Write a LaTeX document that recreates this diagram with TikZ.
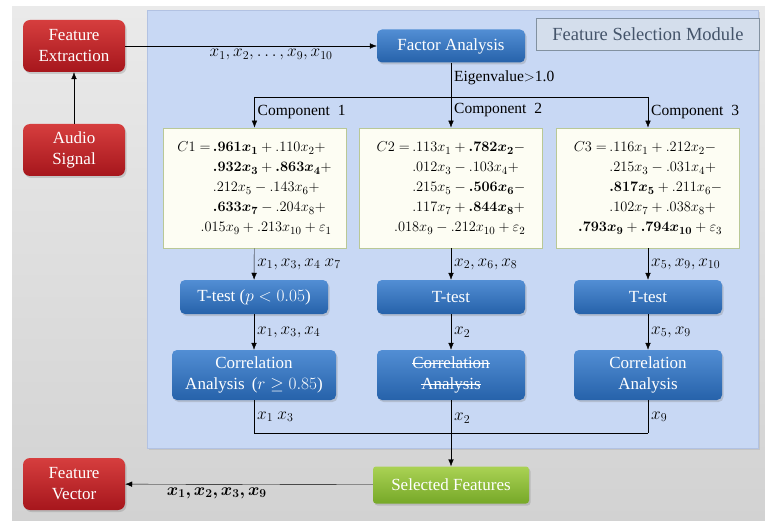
\documentclass[tikz,border=0pt]{standalone}
\usepackage{amsmath}
\usepackage{bm}
\usepackage{fontspec}
\setmainfont{Liberation Serif}
\usetikzlibrary{arrows.meta,shadows}

\definecolor{bgTop}{RGB}{234,234,234}
\definecolor{bgBot}{RGB}{210,210,210}
\definecolor{panelBlue}{RGB}{200,216,244}
\definecolor{panelEdge}{RGB}{178,194,226}
\definecolor{redTop}{RGB}{214,62,62}
\definecolor{redBot}{RGB}{166,22,28}
\definecolor{blueTop}{RGB}{82,142,212}
\definecolor{blueBot}{RGB}{38,98,170}
\definecolor{greenTop}{RGB}{170,210,84}
\definecolor{greenBot}{RGB}{118,168,40}
\definecolor{eqFill}{RGB}{253,253,243}
\definecolor{eqDraw}{RGB}{185,200,150}
\definecolor{moduleFill}{RGB}{212,222,236}
\definecolor{moduleDraw}{RGB}{130,145,160}
\definecolor{moduleText}{RGB}{68,84,106}

\newcommand\strikeText[1]{\setbox0\hbox{#1}\makebox[0pt][l]{\rule[0.28em]{\wd0}{0.8pt}}\box0}

\begin{document}
\begin{tikzpicture}
[x=1pt,y=-1pt,%
  redBox/.style={rectangle,rounded corners=7pt,top color=redTop,bottom color=redBot,
    text=white,align=center,minimum width=102pt,minimum height=52pt,
    font=\fontsize{17}{21}\selectfont,drop shadow={opacity=0.3,shadow xshift=1.5pt,shadow yshift=-2pt}},%
  blueBox/.style={rectangle,rounded corners=5pt,top color=blueTop,bottom color=blueBot,
    text=white,align=center,minimum width=148pt,minimum height=34pt,
    font=\fontsize{17}{21}\selectfont,drop shadow={opacity=0.3,shadow xshift=1.5pt,shadow yshift=-2pt}},%
  greenBox/.style={rectangle,rounded corners=3pt,top color=greenTop,bottom color=greenBot,
    text=white,align=center,minimum width=156pt,minimum height=37pt,
    font=\fontsize{17}{21}\selectfont,drop shadow={opacity=0.3,shadow xshift=1.5pt,shadow yshift=-2pt}},%
  eqBox/.style={rectangle,fill=eqFill,draw=eqDraw,thick,minimum width=183pt,minimum height=120pt,
    inner sep=2pt,font=\fontsize{15.3}{20}\selectfont},%
  moduleBox/.style={rectangle,fill=moduleFill,draw=moduleDraw,thick,text=moduleText,
    minimum width=223pt,minimum height=32pt,font=\fontsize{18.5}{21}\selectfont},%
  lineDecorate/.style={-,thin,black},%
  arrowDecorate/.style={-{Latex[length=7pt,width=5.5pt]},thin,black},%
  labelDecorate/.style={font=\fontsize{15.5}{18}\selectfont,inner sep=3pt},%
  mathLabel/.style={font=\fontsize{17}{20}\selectfont,inner sep=3pt}]
\useasboundingbox (0,0) rectangle (765,521);
%% background and module panel
\fill[top color=bgTop,bottom color=bgBot] (12,7) rectangle (765,521);
\fill[panelBlue,draw=panelEdge,drop shadow={opacity=0.2,shadow xshift=2pt,shadow yshift=-2pt}] (147,10) rectangle (758,448);
\node (module) at (648,34) [moduleBox] {Feature Selection Module};
%% red boxes
\foreach \nodename/\x/\y/\txt in {fext/74/46/{Feature\\Extraction}, audio/74/150/{Audio\\Signal}, fvec/74/484/{Feature\\Vector}} {
  \node (\nodename) at (\x,\y) [redBox] {\txt};
}
%% blue boxes
\node (fa) at (451,46) [blueBox,minimum height=33pt] {Factor Analysis};
\foreach \nodename/\x/\txt in {t1/254/{T-test ($p<0.05$)}, t2/451/{T-test}, t3/648/{T-test}} {
  \node (\nodename) at (\x,297) [blueBox] {\txt};
}
\node (corr1) at (254,375) [blueBox,minimum width=164pt,minimum height=50pt] {Correlation\\Analysis \,($r\geq0.85$)};
\node (corr2) at (451,375) [blueBox,minimum height=50pt] {\strikeText{Correlation}\\\strikeText{Analysis}};
\node (corr3) at (648,375) [blueBox,minimum height=50pt] {Correlation\\Analysis};
\node (sel) at (451,485) [greenBox] {Selected Features};
%% component equations
\node (c1) at (254.5,188) [eqBox] {$\begin{array}{@{}r@{\,}l@{}}
  C1 = & \bm{.961x_1} + .110x_2 + \\
  & \bm{.932x_3} + \bm{.863x_4} + \\
  & .212x_5 - .143x_6 + \\
  & \bm{.633x_7} - .204x_8 + \\
  \multicolumn{2}{@{}r@{}}{.015x_9 + .213x_{10} + \varepsilon_1}
  \end{array}$};
\node (c2) at (451,188) [eqBox] {$\begin{array}{@{}r@{\,}l@{}}
  C2 = & .113x_1 + \bm{.782x_2} - \\
  & .012x_3 - .103x_4 + \\
  & .215x_5 - \bm{.506x_6} - \\
  & .117x_7 + \bm{.844x_8} + \\
  \multicolumn{2}{@{}r@{}}{.018x_9 - .212x_{10} + \varepsilon_2}
  \end{array}$};
\node (c3) at (648,188) [eqBox] {$\begin{array}{@{}r@{\,}l@{}}
  C3 = & .116x_1 + .212x_2 - \\
  & .215x_3 - .031x_4 + \\
  & \bm{.817x_5} + .211x_6 - \\
  & .102x_7 + .038x_8 + \\
  \multicolumn{2}{@{}r@{}}{\bm{.793x_9} + \bm{.794x_{10}} + \varepsilon_3}
  \end{array}$};
%% connectors
\coordinate (split) at (451,97);
\coordinate (merge) at (451,433);
\draw[arrowDecorate] (audio) -- (fext);
\draw[arrowDecorate] (fext) -- node[mathLabel,pos=0.58,below] {$x_1,x_2,\dots,x_9,x_{10}$} (fa);
\draw[arrowDecorate] (fa) -- node[labelDecorate,pos=0.23,right] {Eigenvalue$>$1.0}
  node[labelDecorate,pos=0.73,right] {Component\ \ 2} (c2);
\draw[lineDecorate] (c1.north |- split) -- (c3.north |- split);
\draw[arrowDecorate] (c1.north |- split) -- node[labelDecorate,midway,right] {Component\ \ 1} (c1);
\draw[arrowDecorate] (c3.north |- split) -- node[labelDecorate,midway,right] {Component\ \ 3} (c3);
\foreach \i/\a/\b in {1/{$x_1,x_3,x_4\ x_7$}/{$x_1,x_3,x_4$}, 2/{$x_2,x_6,x_8$}/{$x_2$}, 3/{$x_5,x_9,x_{10}$}/{$x_5,x_9$}} {
  \draw[arrowDecorate] (c\i) -- node[mathLabel,midway,right] {\a} (t\i);
  \draw[arrowDecorate] (t\i) -- node[mathLabel,midway,right] {\b} (corr\i);
}
\draw[lineDecorate] (corr1.south) -- node[mathLabel,midway,right] {$x_1\ x_3$} (corr1.south |- merge)
  -- (corr3.south |- merge);
\draw[lineDecorate] (corr3.south) -- node[mathLabel,midway,right] {$x_9$} (corr3.south |- merge);
\draw[arrowDecorate] (corr2) -- node[mathLabel,pos=0.27,right] {$x_2$} (sel);
\draw[arrowDecorate] (sel) -- node[mathLabel,pos=0.63,below] {$\bm{x_1,x_2,x_3,x_9}$} (fvec);
\end{tikzpicture}
\end{document}
